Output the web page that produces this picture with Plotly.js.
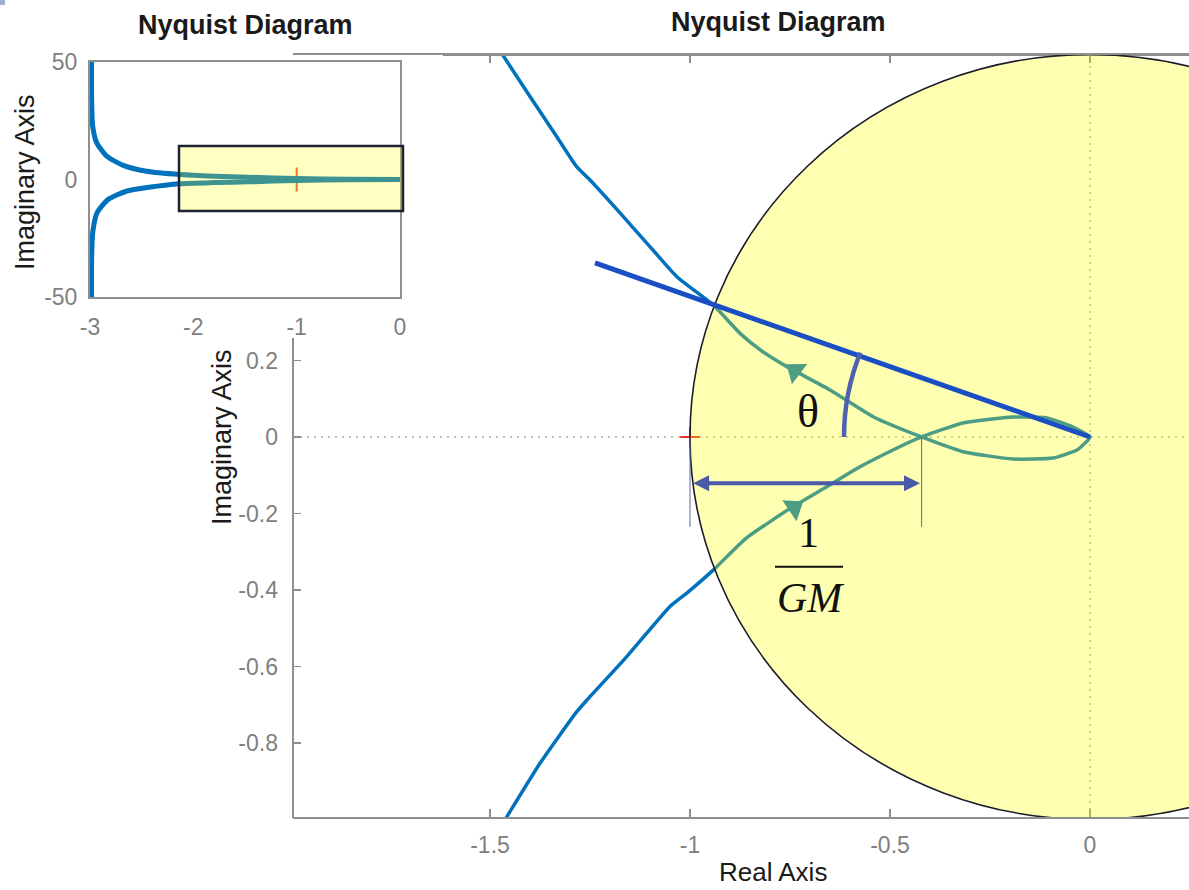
<!DOCTYPE html>
<html><head><meta charset="utf-8">
<script src="https://cdn.plot.ly/plotly-3.0.1.min.js"></script>
<style>html,body{margin:0;padding:0;background:#fff;}#chart{width:1189px;height:890px;}</style>
</head><body><div id="chart"></div>
<script>
// ---- main Nyquist curve ----
const curveRe = [-1.478, -1.468, -1.400, -1.333, -1.283, -1.250, -1.175, -1.093, -1.033, -0.942, -0.875, -0.818, -0.758, -0.650, -0.542, -0.421, -0.3175, -0.1925, -0.0925, -0.0325, -0.005, 0, -0.0425, -0.1075, -0.1925, -0.3175, -0.421, -0.4925, -0.575, -0.658, -0.7425, -0.860, -0.942, -1.008, -1.050, -1.158, -1.258, -1.283, -1.375, -1.458, -1.468];
const curveIm = [1.02, 0.999, 0.890, 0.785, 0.706, 0.672, 0.586, 0.489, 0.419, 0.345, 0.271, 0.223, 0.184, 0.123, 0.053, 0, -0.0384, -0.0575, -0.055, -0.034, -0.008, 0, 0.026, 0.0497, 0.052, 0.0366, 0, -0.034, -0.078, -0.130, -0.182, -0.265, -0.348, -0.408, -0.443, -0.574, -0.688, -0.718, -0.853, -0.993, -1.01];
const dirArrowRe = [-0.737, -0.740];
const dirArrowIm = [0.173, -0.185];
const dirArrowAngle = [-53, 56];
const criticalRe = [-1];
const criticalIm = [0];
// phase-margin line and gain-margin crossing
const pmLineRe = [-1.2375, 0];
const pmLineIm = [0.455, 0];
const gmCrossRe = -0.421;
const gmArrowIm = -0.121;
const gmTickBottom = -0.235;
// ---- inset curve ----
const insetUpperRe = [-2.985, -2.984, -2.974, -2.935, -2.838, -2.678, -2.451, -2.129, -1.80, -1.47, -1.0, -0.5, 0];
const insetUpperIm = [50.5, 34, 22.7, 15.6, 9.9, 6.0, 3.5, 2.1, 1.4, 1.0, 0.4, 0.1, 0];
const insetLowerRe = [-2.985, -2.984, -2.972, -2.93, -2.825, -2.65, -2.43, -2.129, -1.80, -1.46, -1.0, -0.5, 0];
const insetLowerIm = [-50.5, -33, -22, -14, -8.5, -5, -3.3, -1.8, -1.3, -1.0, -0.4, -0.1, 0];
// ---- ticks ----
const mainXTicks = [-1.5, -1, -0.5, 0];
const mainXTickText = ['-1.5', '-1', '-0.5', '0'];
const mainYTicks = [-0.8, -0.6, -0.4, -0.2, 0, 0.2];
const mainYTickText = ['-0.8', '-0.6', '-0.4', '-0.2', '0', '0.2'];
const insetXTicks = [-3, -2, -1, 0];
const insetXTickText = ['-3', '-2', '-1', '0'];
const insetYTicks = [-50, 0, 50];
const insetYTickText = ['-50', '0', '50'];

const W = 1189, H = 890;
const PX = v => v / W, PY = v => 1 - v / H;
const SANS = '"Liberation Sans", Arial, Helvetica, sans-serif';
const SERIF = '"Liberation Serif", "Times New Roman", "DejaVu Serif", serif';
const BLUE = '#0072BD', GRAY = '#8f8f8f', TICKCOL = '#808080';

const traces = [
  {x: criticalRe, y: criticalIm, type: 'scatter', mode: 'markers', marker: {symbol: 'cross-thin', size: 17, line: {color: '#e0502a', width: 2}}, xaxis: 'x2', yaxis: 'y2', hoverinfo: 'skip'},
  {x: curveRe, y: curveIm, type: 'scatter', mode: 'lines', line: {color: BLUE, width: 3.5, shape: 'spline', smoothing: 0.5}, xaxis: 'x', yaxis: 'y', hoverinfo: 'skip'},
  {x: dirArrowRe, y: dirArrowIm, type: 'scatter', mode: 'markers', marker: {symbol: 'triangle-up', size: 22, color: BLUE, angle: dirArrowAngle, line: {width: 0}}, xaxis: 'x', yaxis: 'y', hoverinfo: 'skip'},
  {x: criticalRe, y: criticalIm, type: 'scatter', mode: 'markers', marker: {symbol: 'cross-thin', size: 14, line: {color: '#e8302a', width: 2}}, xaxis: 'x', yaxis: 'y', hoverinfo: 'skip'},
  {x: insetUpperRe, y: insetUpperIm, type: 'scatter', mode: 'lines', line: {color: BLUE, width: 5, shape: 'spline', smoothing: 0.6}, xaxis: 'x2', yaxis: 'y2', hoverinfo: 'skip'},
  {x: insetLowerRe, y: insetLowerIm, type: 'scatter', mode: 'lines', line: {color: BLUE, width: 5, shape: 'spline', smoothing: 0.6}, xaxis: 'x2', yaxis: 'y2', hoverinfo: 'skip'}
];

const r = 0.615, t = Math.PI / 180;
const arcPath = 'M' + (-r) + ',0 Q' + (-r) + ',' + (r * Math.tan(10.5 * t)) + ' ' + (-r * Math.cos(21 * t)) + ',' + (r * Math.sin(21 * t));

const shapes = [
  {type: 'line', xref: 'x domain', yref: 'y', x0: 0, x1: 1, y0: 0, y1: 0, layer: 'below', line: {color: '#a8a8a8', width: 1.5, dash: '2px,5px'}},
  {type: 'line', xref: 'x', yref: 'y domain', x0: 0, x1: 0, y0: 0, y1: 1, layer: 'below', line: {color: '#a8a8a8', width: 1.5, dash: '2px,5px'}},
  {type: 'line', xref: 'x2 domain', yref: 'y2', x0: 0, x1: 1, y0: 0, y1: 0, layer: 'below', line: {color: '#a8a8a8', width: 1.5, dash: '2px,5px'}},
  {type: 'line', xref: 'paper', yref: 'paper', x0: PX(293), x1: PX(293), y0: PY(818), y1: PY(338), layer: 'above', line: {color: GRAY, width: 2}},
  {type: 'line', xref: 'paper', yref: 'paper', x0: PX(443), x1: 1, y0: PY(55), y1: PY(55), layer: 'above', line: {color: GRAY, width: 2}},
  {type: 'circle', xref: 'x', yref: 'y', x0: -1, x1: 1, y0: -1, y1: 1, layer: 'above', fillcolor: 'rgba(255,255,0,0.3)', line: {color: '#1c1c2a', width: 1.6}},
  {type: 'line', xref: 'x', yref: 'y', x0: criticalRe[0], x1: criticalRe[0], y0: 0, y1: gmTickBottom, layer: 'above', line: {color: '#5a68a8', width: 1}},
  {type: 'line', xref: 'x', yref: 'y', x0: gmCrossRe, x1: gmCrossRe, y0: 0, y1: gmTickBottom, layer: 'above', line: {color: '#5a68a8', width: 1}},
  {type: 'line', xref: 'x', yref: 'y', x0: pmLineRe[0], x1: pmLineRe[1], y0: pmLineIm[0], y1: pmLineIm[1], layer: 'above', line: {color: '#1a4fc4', width: 5}},
  {type: 'path', xref: 'x', yref: 'y', path: arcPath, layer: 'above', line: {color: '#4f62b2', width: 4.5}},
  {type: 'line', xref: 'x', yref: 'y', x0: -0.7875, x1: -0.6175, y0: -0.339, y1: -0.339, layer: 'above', line: {color: '#111', width: 2}},
  {type: 'rect', xref: 'paper', yref: 'paper', x0: PX(179), x1: PX(403), y0: PY(211), y1: PY(146), layer: 'above', fillcolor: 'rgba(255,255,0,0.24)', line: {color: '#1b2233', width: 2.5}},
  {type: 'rect', xref: 'paper', yref: 'paper', x0: 0, x1: PX(5), y0: PY(5), y1: 1, layer: 'above', fillcolor: '#9db0dc', line: {width: 0}}
];

const C = {xanchor: 'center', yanchor: 'middle', showarrow: false};
const annotations = [
  Object.assign({xref: 'paper', yref: 'paper', x: PX(778), y: PY(22), text: '<b>Nyquist Diagram</b>', font: {family: SANS, size: 27, color: '#1a1a1a'}}, C),
  Object.assign({xref: 'paper', yref: 'paper', x: PX(245), y: PY(25), text: '<b>Nyquist Diagram</b>', font: {family: SANS, size: 27, color: '#1a1a1a'}}, C),
  Object.assign({xref: 'paper', yref: 'paper', x: PX(222), y: PY(437), text: 'Imaginary Axis', textangle: -90, font: {family: SANS, size: 27, color: '#1a1a1a'}}, C),
  Object.assign({xref: 'paper', yref: 'paper', x: PX(25), y: PY(182), text: 'Imaginary Axis', textangle: -90, font: {family: SANS, size: 27, color: '#1a1a1a'}}, C),
  Object.assign({xref: 'paper', yref: 'paper', x: PX(773), y: PY(872), text: 'Real Axis', font: {family: SANS, size: 26, color: '#1a1a1a'}}, C),
  Object.assign({xref: 'x', yref: 'y', x: -0.705, y: 0.066, text: 'θ', font: {family: SERIF, size: 46, color: '#111'}}, C),
  Object.assign({xref: 'x', yref: 'y', x: -0.703, y: -0.25, text: '1', font: {family: SERIF, size: 42, color: '#111'}}, C),
  Object.assign({xref: 'x', yref: 'y', x: -0.700, y: -0.42, text: '<i>GM</i>', font: {family: SERIF, size: 42, color: '#111'}}, C),
  {xref: 'x', yref: 'y', axref: 'x', ayref: 'y', x: gmCrossRe - 0.004, y: gmArrowIm, ax: criticalRe[0] + 0.004, ay: gmArrowIm, text: '', showarrow: true,
   arrowside: 'end+start', arrowhead: 2, startarrowhead: 2, arrowsize: 0.8, startarrowsize: 0.8, arrowwidth: 4, arrowcolor: '#4a5aa8', standoff: 0, startstandoff: 0}
];

const layout = {
  width: W, height: H, margin: {l: 0, r: 0, t: 0, b: 0},
  paper_bgcolor: '#ffffff', plot_bgcolor: '#ffffff', showlegend: false,
  font: {family: SANS, color: '#1a1a1a'},
  xaxis: {domain: [PX(293), 1], range: [-1.9925, 0.2475], tickvals: mainXTicks, ticktext: mainXTickText,
    ticks: 'inside', ticklen: 8, tickwidth: 1.5, tickcolor: GRAY, showline: true, linecolor: GRAY, linewidth: 2, mirror: 'ticks',
    showgrid: false, zeroline: false, tickfont: {family: SANS, size: 23, color: TICKCOL}, ticklabelstandoff: 6, anchor: 'y'},
  yaxis: {domain: [PY(817), PY(55)], range: [-0.9935, 0.9987], tickvals: mainYTicks, ticktext: mainYTickText,
    ticks: 'inside', ticklen: 8, tickwidth: 1.5, tickcolor: GRAY, showline: false, showgrid: false, zeroline: false,
    tickfont: {family: SANS, size: 23, color: TICKCOL}, ticklabelstandoff: 14, anchor: 'x'},
  xaxis2: {domain: [PX(90), PX(400)], range: [-3, 0], tickvals: insetXTicks, ticktext: insetXTickText, anchor: 'y2',
    ticks: '', showline: true, linecolor: GRAY, linewidth: 2, mirror: true, showgrid: false, zeroline: false,
    tickfont: {family: SANS, size: 23, color: TICKCOL}, ticklabelstandoff: 8},
  yaxis2: {domain: [PY(297), PY(62)], range: [-50, 50], tickvals: insetYTicks, ticktext: insetYTickText, anchor: 'x2',
    ticks: '', showline: true, linecolor: GRAY, linewidth: 2, mirror: true, showgrid: false, zeroline: false,
    tickfont: {family: SANS, size: 23, color: TICKCOL}, ticklabelstandoff: 6},
  shapes: shapes, annotations: annotations
};

Plotly.newPlot('chart', traces, layout, {displayModeBar: false, staticPlot: true});
</script></body></html>
